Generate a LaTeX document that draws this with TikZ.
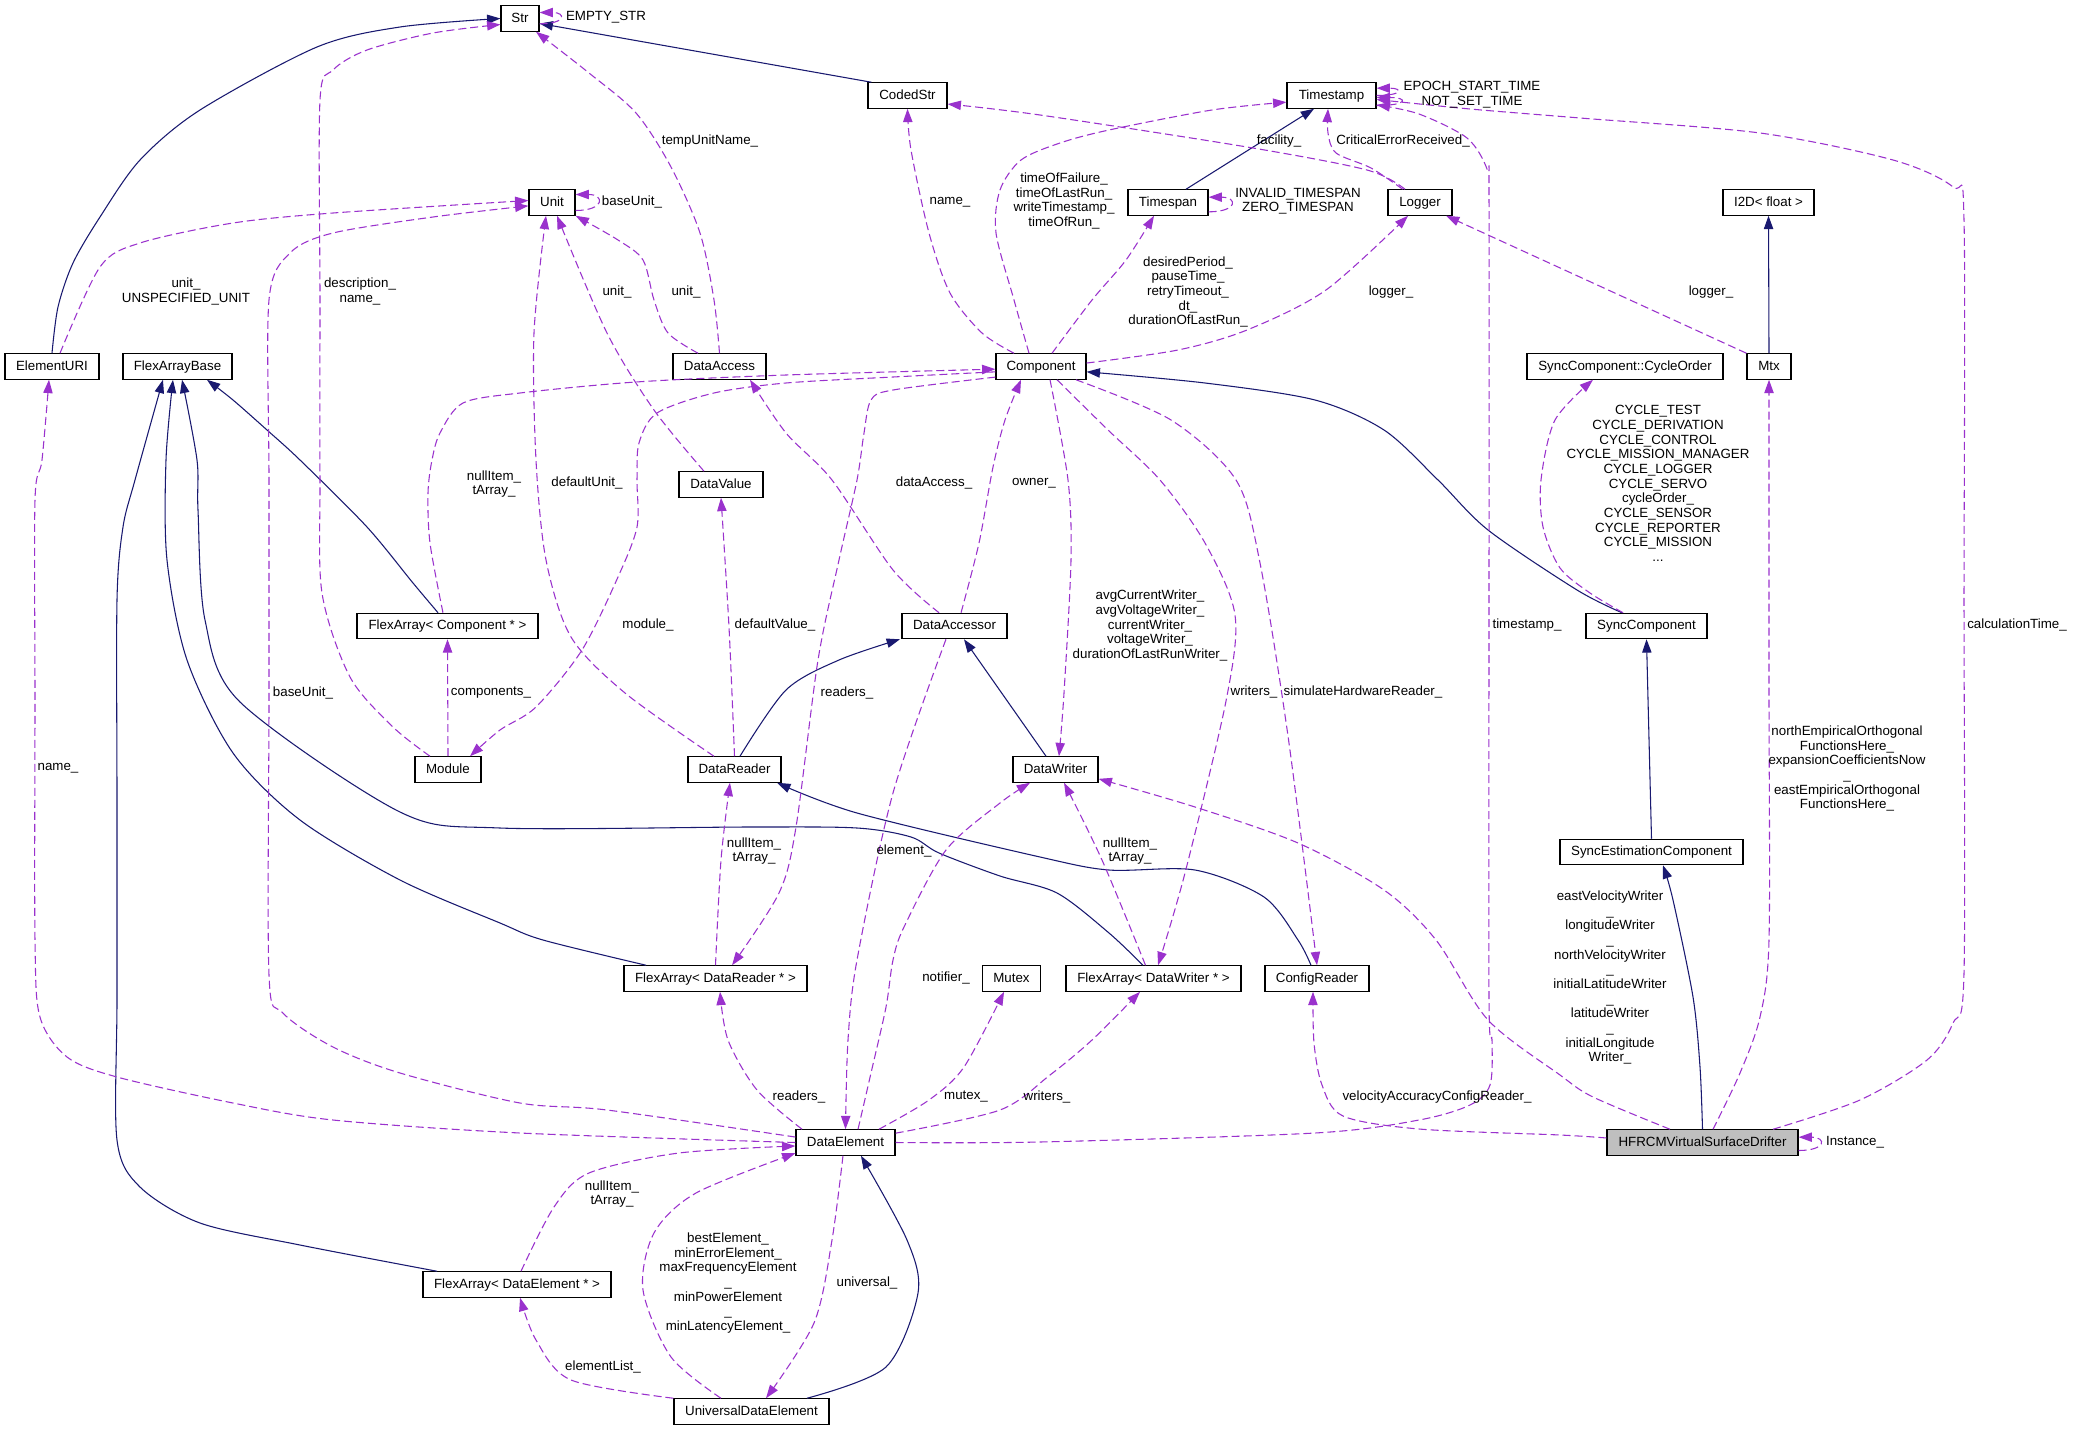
\documentclass[tikz,border=0pt]{standalone}
\usepackage{fontspec}
\setmainfont{Liberation Sans}
\usetikzlibrary{arrows.meta}
\definecolor{inhcol}{HTML}{191970}
\definecolor{usecol}{HTML}{9A32CD}
\definecolor{focus}{HTML}{BFBFBF}
\newcommand\dxfont{\fontsize{10}{11}\selectfont}
\begin{document}
\begin{tikzpicture}[x=0.75pt,y=-0.75pt,
  cls/.style={draw=black, line width=0.9pt, fill=white, minimum height=19pt, inner sep=0pt, font=\dxfont, text height=7.3pt, text depth=2pt},
  w/.style={minimum width=#1*0.75pt},
  inh/.style={draw=inhcol, line width=0.8pt, -{Triangle[length=10pt,width=7pt]}},
  use/.style={draw=usecol, line width=0.8pt, dash pattern=on 6pt off 3pt, -{Triangle[length=10pt,width=7pt]}},
  lbl/.style={inner sep=0pt, align=center, font=\dxfont}]
\path[use as bounding box, fill=white] (0,0) rectangle (2073,1431);

% classes
\node[cls,w=38]  (str)   at (520,18.5)    {Str};
\node[cls,w=79]  (coded) at (907.5,95.5)  {CodedStr};
\node[cls,w=89]  (tst)   at (1331.5,95.5) {Timestamp};
\node[cls,w=46]  (unit)  at (552,202.5)   {Unit};
\node[cls,w=80]  (tsp)   at (1168,202.5)  {Timespan};
\node[cls,w=64]  (log)   at (1420,202.5)  {Logger};
\node[cls,w=91]  (i2d)   at (1768.5,202.5){I2D< float >};
\node[cls,w=94]  (uri)   at (52,366.5)    {ElementURI};
\node[cls,w=109] (fab)   at (177.5,366.5) {FlexArrayBase};
\node[cls,w=93]  (dacc)  at (719.5,366.5) {DataAccess};
\node[cls,w=90]  (cmp)   at (1041,366.5)  {Component};
\node[cls,w=196] (cyc)   at (1625,366.5)  {SyncComponent::CycleOrder};
\node[cls,w=44]  (mtx)   at (1769,366.5)  {Mtx};
\node[cls,w=84]  (dval)  at (721,484.5)   {DataValue};
\node[cls,w=181] (fac)   at (447.5,626)   {FlexArray< Component * >};
\node[cls,w=105] (dac)   at (954.5,626)   {DataAccessor};
\node[cls,w=121] (syc)   at (1646.5,626)  {SyncComponent};
\node[cls,w=66]  (mod)   at (448,769.5)   {Module};
\node[cls,w=93]  (drd)   at (734.5,769.5) {DataReader};
\node[cls,w=85]  (dwr)   at (1055.5,769.5){DataWriter};
\node[cls,w=183] (sec)   at (1651.5,852)  {SyncEstimationComponent};
\node[cls,w=183] (far)   at (715.5,978.5) {FlexArray< DataReader * >};
\node[cls,w=58]  (mutex) at (1011.5,978.5){Mutex};
\node[cls,w=175] (faw)   at (1153.5,978.5){FlexArray< DataWriter * >};
\node[cls,w=104] (cfg)   at (1317,978.5)  {ConfigReader};
\node[cls,w=99]  (del)   at (845.5,1142.5){DataElement};
\node[cls,w=191,fill=focus] (hfr) at (1702.5,1142.5) {HFRCMVirtualSurfaceDrifter};
\node[cls,w=188] (fae)   at (517,1284.5)  {FlexArray< DataElement * >};
\node[cls,w=155] (ude)   at (751.5,1411.5){UniversalDataElement};

% inheritance
\draw[inh] plot[smooth] coordinates {(uri.north) (58,307) (73,263) (100,217) (140,160) (200,110) (317,47) (400,27) (str.west)};
\draw[inh] ([xshift=3pt]coded.north west) -- ([yshift=-3.75pt]str.east);
\draw[inh] plot[smooth] coordinates {([xshift=-7.1pt]fac.north) (413,583) (367,527) (300,460) (267,430) (233,400) ([xshift=22.1pt]fab.south)};
\draw[inh] plot[smooth] coordinates {([xshift=-52.1pt]far.north) (543,940) (500,923) (400,880) (300,820) (233,753) (187,660) (167,560) (166,460) ([xshift=-3.4pt]fab.south)};
\draw[inh] plot[smooth] coordinates {([xshift=-60pt]fae.north) (300,1245) (200,1223) (140,1187) (117,1140) (117,1000) (117,800) (117,600) (123,527) (135,480) ([xshift=-10.9pt]fab.south)};
\draw[inh] plot[smooth] coordinates {([xshift=-7.9pt]faw.north) (1109,933) (1057,893) (1000,876) (939,853) (911,837) (857,828) (750,827) (500,828) (400,812) (240,702) (205,620) (198,510) (197,460) ([xshift=3.4pt]fab.south)};
\draw[inh] plot[smooth] coordinates {([xshift=4.1pt]drd.north) (786,690) (839,660) ([xshift=-40.9pt]dac.south)};
\draw[inh] ([xshift=-7.1pt]dwr.north) -- ([xshift=7.1pt]dac.south);
\draw[inh] plot[smooth] coordinates {([xshift=-4.5pt]cfg.north) (1298,940) (1264,897) (1195,870) (1109,870) (1040,857) (857,813) ([xshift=32pt]drd.south)};
\draw[inh] plot[smooth] coordinates {([xshift=41.6pt]ude.north) (886,1367) (918,1293) (907,1240) ([xshift=11.6pt]del.south)};
\draw[inh] ([xshift=13.5pt]tsp.north) -- ([xshift=-13.1pt]tst.south);
\draw[inh] (mtx.north) -- (i2d.south);
\draw[inh] plot[smooth] coordinates {([xshift=-18.4pt]syc.north) (1577,590) (1488,530) (1438,480) (1384,430) (1315,400) (1205,383) ([yshift=-4pt]cmp.east)};
\draw[inh] (sec.north) -- (syc.south);
\draw[inh] plot[smooth] coordinates {(hfr.north) (1700,1067) (1693,997) (1673,900) ([xshift=8.6pt]sec.south)};

% self references
\draw[use] ([yshift=-4pt]str.east) .. controls +(20pt,0pt) and +(20pt,0pt) .. ([yshift=4.5pt]str.east);
\draw[use] ([yshift=-6pt]unit.east) .. controls +(22pt,0pt) and +(22pt,0pt) .. ([yshift=6pt]unit.east);
\draw[use] ([yshift=-7pt]tsp.east) .. controls +(22pt,0pt) and +(22pt,0pt) .. ([yshift=4pt]tsp.east);
\draw[use] ([yshift=-6pt]hfr.east) .. controls +(21pt,0pt) and +(21pt,0pt) .. ([yshift=4pt]hfr.east);
\draw[use] ([yshift=0pt]tst.east) .. controls +(20pt,0pt) and +(20pt,0pt) .. ([yshift=5.5pt]tst.east);
\draw[use] ([yshift=-7.5pt]tst.east) .. controls +(24pt,0pt) and +(24pt,0pt) .. ([yshift=-1.5pt]tst.east);

% usage
\draw[use] plot[smooth] coordinates {(dacc.north) (714,300) (700,233) (671,167) (636,113) (589,73) ([xshift=12pt]str.south)};
\draw[use] plot[smooth] coordinates {([xshift=-13.5pt]mod.north) (393,727) (350,677) (322,593) (320,480) (320,300) (320,100) (333,70) (367,50) (433,33) ([yshift=-4.5pt]str.west)};
\draw[use] plot[smooth] coordinates {([xshift=-16.1pt]dacc.north) (668,333) (654,300) (643,260) (618,240) (unit.south east)};
\draw[use] plot[smooth] coordinates {([xshift=-12.75pt]dval.north) (654,410) (607,333) ([xshift=3.75pt]unit.south)};
\draw[use] plot[smooth] coordinates {([xshift=-15.4pt]drd.north) (625,693) (571,637) (546,560) (536,460) (534,333) ([xshift=-4.5pt]unit.south)};
\draw[use] plot[smooth] coordinates {([yshift=4.1pt]del.west) (607,1110) (520,1103) (400,1073) (333,1047) (283,1013) (269,975) (269,700) (269,480) (269,300) (290,253) (333,233) (433,217) ([yshift=-2.5pt]unit.west)};
\draw[use] plot[smooth] coordinates {([xshift=6pt]uri.north) (100,267) (140,243) (233,223) (333,213) ([yshift=1.5pt]unit.west)};
\draw[use] plot[smooth] coordinates {([xshift=-20.25pt]cmp.north) (982,333) (950,293) (929,233) (911,150) (coded.south)};
\draw[use] plot[smooth] coordinates {([xshift=-9pt]cmp.north) (1014,300) (996,233) (1000,190) (1021,160) (1060,143) (1109,130) (1212,110) ([yshift=-5pt]tst.west)};
\draw[use] plot[smooth] coordinates {([xshift=-11.25pt]log.north) (1367,170) (1247,147) (1040,115) ([yshift=-6.4pt]coded.east)};
\draw[use] plot[smooth] coordinates {([xshift=-13pt]log.north) (1371,168) (1336,153) (1328,133) ([xshift=-2.6pt]tst.south)};
\draw[use] plot[smooth] coordinates {([xshift=8.25pt]cmp.north) (1092,300) (1126,260) ([xshift=-10.5pt]tsp.south)};
\draw[use] plot[smooth] coordinates {([yshift=2.6pt]cmp.east) (1178,350) (1247,330) (1326,290) ([xshift=-9pt]log.south)};
\draw[use] (mtx.north west) -- ([xshift=19.5pt]log.south);
\draw[use] plot[smooth] coordinates {([xshift=-17.6pt]syc.north) (1590,593) (1560,568) (1543,527) (1541,480) (1555,420) ([xshift=-24pt]cyc.south)};
\draw[use] plot[smooth] coordinates {([xshift=7.9pt]hfr.north) (1740,1073) (1760,1017) (1769,940) (1769,700) (1769,500) (mtx.south)};
\draw[use] plot[smooth] coordinates {([xshift=52.9pt]hfr.north) (1860,1100) (1927,1060) (1953,1023) (1964,973) (1964,600) (1964,220) (1953,187) (1893,160) (1760,133) (1580,118) (1470,109) ([yshift=-3pt]tst.east)};
\draw[use] plot[smooth] coordinates {(del.east) (1040,1142) (1315,1133) (1419,1120) (1470,1105) (1490,1085) (1492,1040) (1489,1000) (1489,600) (1489,200) (1487,169) (1467,138) (1419,114) ([yshift=-7pt]tst.east)};
\draw[use] plot[smooth] coordinates {([yshift=3.4pt]hfr.west) (1560,1135) (1419,1129) (1343,1116) (1322,1085) (1314,1043) ([xshift=-3pt]cfg.south)};
\draw[use] plot[smooth] coordinates {([xshift=-24.4pt]hfr.north) (1593,1097) (1560,1075) (1488,1020) (1436,940) (1384,890) (1298,843) (1195,807) ([yshift=-7pt]dwr.east)};
\draw[use] plot[smooth] coordinates {([xshift=-3.4pt]fac.north) (430,543) (428,493) (432,460) (440,433) (463,403) (520,393) (636,382) (786,375) ([yshift=-2pt]cmp.west)};
\draw[use] plot[smooth] coordinates {([yshift=-4pt]cmp.west) (893,377) (786,383) (714,393) (657,413) (639,443) (637,480) (637,527) (618,577) (582,650) (536,707) (500,730) ([xshift=16.5pt]mod.north)};
\draw[use] plot[smooth] coordinates {([yshift=2pt]cmp.south west) (893,390) (871,400) (864,433) (857,480) (839,560) (818,660) (796,827) (779,893) ([xshift=12.4pt]far.north)};
\draw[use] plot[smooth] coordinates {([xshift=4.9pt]dac.north) (979,543) (993,467) (1005,420) ([xshift=-15pt]cmp.south)};
\draw[use] plot[smooth] coordinates {([xshift=-11.6pt]dac.north) (893,570) (832,480) (786,433) ([xshift=22.9pt]dacc.south)};
\draw[use] plot[smooth] coordinates {([xshift=-6.4pt]dac.south) (893,793) (857,960) (848,1040) (del.north)};
\draw[use] plot[smooth] coordinates {([xshift=9.4pt]del.north) (871,1073) (886,1007) (893,960) (904,927) (946,850) (1000,803) ([xshift=-19.1pt]dwr.south)};
\draw[use] plot[smooth] coordinates {(drd.north) (729,627) (dval.south)};
\draw[use] (mod.north) -- (fac.south);
\draw[use] plot[smooth] coordinates {([xshift=6.75pt]cmp.south) (1068,480) (1071,560) (1064,693) ([xshift=2.6pt]dwr.north)};
\draw[use] plot[smooth] coordinates {([xshift=12pt]cmp.south) (1108,430) (1160,480) (1205,543) (1235,615) (1226,701) (1185,873) ([xshift=3.4pt]faw.north)};
\draw[use] plot[smooth] coordinates {([xshift=-8pt]cmp.south east) (1171,420) (1236,480) (1260,563) (1288,736) (cfg.north)};
\draw[use] plot[smooth] coordinates {(far.north) (721,860) ([xshift=-3.4pt]drd.south)};
\draw[use] plot[smooth] coordinates {([xshift=-6pt]faw.north) (1102,860) ([xshift=6.4pt]dwr.south)};
\draw[use] plot[smooth] coordinates {([xshift=-32.6pt]del.north) (757,1090) (728,1040) ([xshift=3.4pt]far.south)};
\draw[use] plot[smooth] coordinates {([xshift=25.1pt]del.north) (929,1100) (964,1067) ([xshift=-5.6pt]mutex.south)};
\draw[use] plot[smooth] coordinates {([yshift=7pt]del.east) (1000,1110) (1050,1075) (1092,1040) ([xshift=-10.1pt]faw.south)};
\draw[use] plot[smooth] coordinates {([xshift=3pt]fae.north) (554,1207) (589,1173) (679,1153) ([yshift=-2.6pt]del.west)};
\draw[use] plot[smooth] coordinates {([xshift=-22.9pt]ude.north) (671,1357) (643,1290) (654,1233) (696,1193) ([yshift=-8pt]del.west)};
\draw[use] plot[smooth] coordinates {([xshift=-1.9pt]del.south) (832,1240) (814,1323) ([xshift=10.9pt]ude.north)};
\draw[use] plot[smooth] coordinates {(ude.north west) (571,1380) (536,1340) ([xshift=2.3pt]fae.south)};
\draw[use] plot[smooth] coordinates {(del.west) (520,1133) (333,1120) (233,1103) (117,1077) (67,1057) (40,1017) (35,940) (35,700) (35,500) (42,460) ([xshift=-2.25pt]uri.south)};

% member names
\node[lbl] at (606,17) {EMPTY\_STR};
\node[lbl] at (710,141) {tempUnitName\_};
\node[lbl] at (632,202) {baseUnit\_};
\node[lbl] at (950,202) {name\_};
\node[lbl] at (1472,94.5) {EPOCH\_START\_TIME\\NOT\_SET\_TIME};
\node[lbl] at (1279,141) {facility\_};
\node[lbl] at (1403,141) {CriticalErrorReceived\_};
\node[lbl] at (1298,201) {INVALID\_TIMESPAN\\ZERO\_TIMESPAN};
\node[lbl] at (1064,201) {timeOfFailure\_\\timeOfLastRun\_\\writeTimestamp\_\\timeOfRun\_};
\node[lbl] at (1188,292) {desiredPeriod\_\\pauseTime\_\\retryTimeout\_\\dt\_\\durationOfLastRun\_};
\node[lbl] at (1391,292) {logger\_};
\node[lbl] at (1711,292) {logger\_};
\node[lbl] at (186,291.5) {unit\_\\UNSPECIFIED\_UNIT};
\node[lbl] at (360,291.5) {description\_\\name\_};
\node[lbl] at (617,292) {unit\_};
\node[lbl] at (686,292) {unit\_};
\node[lbl] at (1658,483.5) {CYCLE\_TEST\\CYCLE\_DERIVATION\\CYCLE\_CONTROL\\CYCLE\_MISSION\_MANAGER\\CYCLE\_LOGGER\\CYCLE\_SERVO\\cycleOrder\_\\CYCLE\_SENSOR\\CYCLE\_REPORTER\\CYCLE\_MISSION\\...};
\node[lbl] at (494,484) {nullItem\_\\tArray\_};
\node[lbl] at (587,483) {defaultUnit\_};
\node[lbl] at (934,483) {dataAccess\_};
\node[lbl] at (1034,483) {owner\_};
\node[lbl] at (648,625) {module\_};
\node[lbl] at (775,625) {defaultValue\_};
\node[lbl] at (1150,625.5) {avgCurrentWriter\_\\avgVoltageWriter\_\\currentWriter\_\\voltageWriter\_\\durationOfLastRunWriter\_};
\node[lbl] at (1527,625) {timestamp\_};
\node[lbl] at (2017,625) {calculationTime\_};
\node[lbl] at (491,693) {components\_};
\node[lbl] at (303,693) {baseUnit\_};
\node[lbl] at (847,693) {readers\_};
\node[lbl] at (1254,692) {writers\_};
\node[lbl] at (1363,692) {simulateHardwareReader\_};
\node[lbl] at (1847,768.5) {northEmpiricalOrthogonal\\FunctionsHere\_\\expansionCoefficientsNow\\\_\\eastEmpiricalOrthogonal\\FunctionsHere\_};
\node[lbl] at (58,768) {name\_};
\node[lbl] at (754,851) {nullItem\_\\tArray\_};
\node[lbl] at (904,851) {element\_};
\node[lbl] at (1130,851) {nullItem\_\\tArray\_};
\node[lbl] at (1610,977.5) {eastVelocityWriter\\\_\\longitudeWriter\\\_\\northVelocityWriter\\\_\\initialLatitudeWriter\\\_\\latitudeWriter\\\_\\initialLongitude\\Writer\_};
\node[lbl] at (946,978) {notifier\_};
\node[lbl] at (799,1097) {readers\_};
\node[lbl] at (966,1097) {mutex\_};
\node[lbl] at (1047,1097) {writers\_};
\node[lbl] at (1437,1097) {velocityAccuracyConfigReader\_};
\node[lbl] at (1855,1142) {Instance\_};
\node[lbl] at (612,1194) {nullItem\_\\tArray\_};
\node[lbl] at (728,1283) {bestElement\_\\minErrorElement\_\\maxFrequencyElement\\\_\\minPowerElement\\\_\\minLatencyElement\_};
\node[lbl] at (867,1283) {universal\_};
\node[lbl] at (603,1367) {elementList\_};
\end{tikzpicture}
\end{document}
